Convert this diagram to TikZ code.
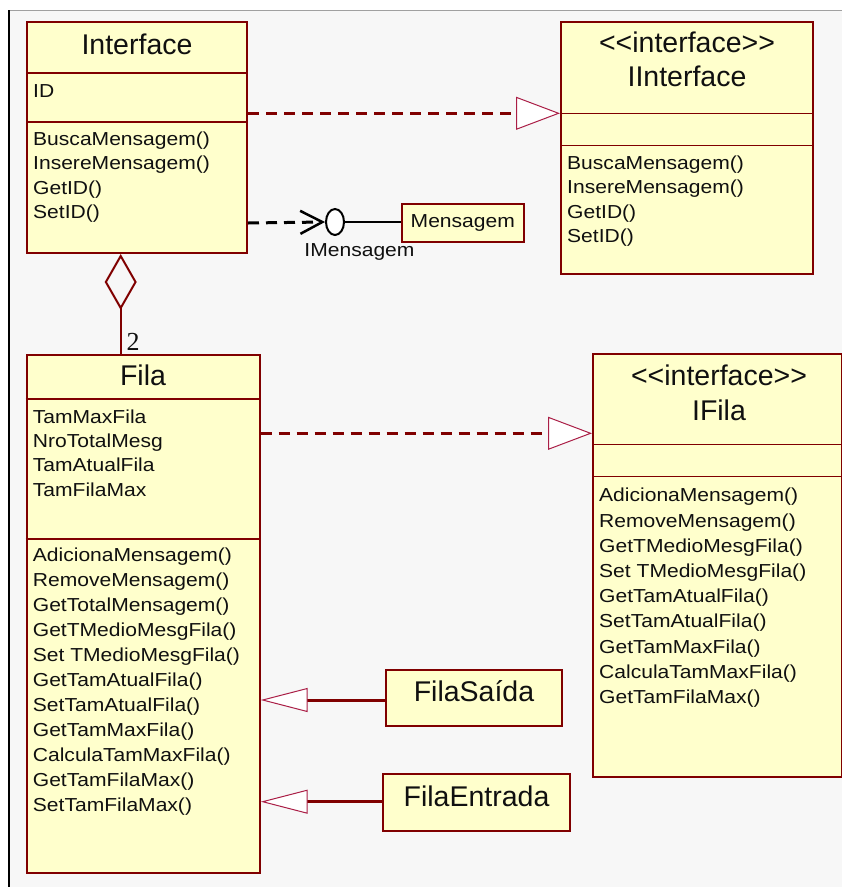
\documentclass[tikz,border=0pt]{standalone}
\usepackage{fontspec}
\setmainfont{Liberation Sans}
\newfontfamily\itemfont[FakeStretch=1.12]{Liberation Sans}
\newfontfamily\digitfont{Liberation Serif}
\usetikzlibrary{arrows.meta,shapes.geometric}
\definecolor{umlred}{RGB}{128,0,0}
\definecolor{tipred}{RGB}{170,30,70}
\definecolor{umlfill}{RGB}{255,255,204}
\definecolor{panel}{RGB}{247,247,247}
\definecolor{frameline}{RGB}{160,160,160}
\definecolor{ink}{RGB}{16,16,16}

\begin{document}
\begin{tikzpicture}[x=1pt,y=-1pt,
  classbox/.style={rectangle, draw=umlred, line width=2pt, fill=umlfill, inner sep=0pt},
  divider/.style={draw=umlred, line width=1.5pt},
  classtitle/.style={font=\fontsize{28.5}{34}\selectfont, inner sep=0pt, anchor=base, text=ink},
  items/.style={font=\itemfont\fontsize{18.8}{#1}\selectfont, inner sep=0pt, anchor=north west, align=left, text=ink},
  items/.default=24.5,
  smalllabel/.style={font=\itemfont\fontsize{18.8}{22}\selectfont, inner sep=0pt, anchor=base, text=ink},
  realize/.style={draw=umlred, line width=3pt, dash pattern=on 11pt off 7pt,
    -{Triangle[length=44pt,width=33pt,line width=1pt,color=tipred,fill=white]}},
  general/.style={draw=umlred, line width=3pt,
    -{Triangle[length=47pt,width=24pt,line width=1pt,color=tipred,fill=white]}},
  aggr/.style={draw=umlred, line width=2pt, -{Diamond[open,length=56pt,width=32pt]}},
  depend/.style={draw=black, line width=3pt, dash pattern=on 11pt off 7pt,
    -{Straight Barb[length=22pt,width=23pt,line width=2.5pt]}},
  lollipop/.style={ellipse, draw=black, line width=2pt, fill=white, inner sep=0pt,
    minimum width=18pt, minimum height=26pt}
]
\useasboundingbox (0,0) rectangle (842,887);

% canvas
\fill[white] (0,0) rectangle (842,887);
\fill[panel] (9,10) rectangle (842,887);
\draw[frameline, line width=1pt] (9,10) -- (842,10);
\draw[black, line width=1.6pt] (9,10) -- (9,887);

% class Interface
\node[classbox, minimum width=220pt, minimum height=231pt] (interface) at (137,137.5) {};
\draw[divider] (interface.west |- 0,73) -- (interface.east |- 0,73);
\draw[divider] (interface.west |- 0,122) -- (interface.east |- 0,122);
\node[classtitle] (interface-name) at (137,54.3) {Interface};
\node[items] (interface-attrs) at (33,82) {\rule{0pt}{15pt}ID};
\node[items=24.4] (interface-ops) at (33,130)
  {\rule{0pt}{15pt}BuscaMensagem()\\InsereMensagem()\\GetID()\\SetID()};

% interface IInterface
\node[classbox, minimum width=252pt, minimum height=252pt] (iinterface) at (687,148) {};
\draw[divider] (iinterface.west |- 0,113.3) -- (iinterface.east |- 0,113.3);
\draw[divider] (iinterface.west |- 0,145.7) -- (iinterface.east |- 0,145.7);
\node[classtitle] (iinterface-stereo) at (687,52.7) {<\kern0pt<interface>\kern0pt>};
\node[classtitle] (iinterface-name) at (687,86.7) {IInterface};
\node[items=24.2] (iinterface-ops) at (567,154.5)
  {\rule{0pt}{15pt}BuscaMensagem()\\InsereMensagem()\\GetID()\\SetID()};

% class Mensagem and its provided interface
\node[classbox, minimum width=122pt, minimum height=38pt] (mensagem) at (462.8,223.2) {};
\node[smalllabel] (mensagem-name) at (462.8,227.7) {Mensagem};
\node[lollipop] (lolli) at (335,222) {};
\node[smalllabel] (lolli-name) at (359.5,256) {IMensagem};

% class Fila
\node[classbox, minimum width=233pt, minimum height=518pt] (fila) at (143.2,614.2) {};
\draw[divider] (fila.west |- 0,399) -- (fila.east |- 0,399);
\draw[divider] (fila.west |- 0,539) -- (fila.east |- 0,539);
\node[classtitle] (fila-name) at (143,385) {Fila};
\node[items=24.3] (fila-attrs) at (32.7,408)
  {\rule{0pt}{15pt}TamMaxFila\\NroTotalMesg\\TamAtualFila\\TamFilaMax};
\node[items=25] (fila-ops) at (32.7,546.7)
  {\rule{0pt}{15pt}AdicionaMensagem()\\RemoveMensagem()\\GetTotalMensagem()\\GetTMedioMesgFila()\\Set TMedioMesgFila()\\GetTamAtualFila()\\SetTamAtualFila()\\GetTamMaxFila()\\CalculaTamMaxFila()\\GetTamFilaMax()\\SetTamFilaMax()};

% interface IFila
\node[classbox, minimum width=249pt, minimum height=423pt] (ifila) at (717.5,565.8) {};
\draw[divider] (ifila.west |- 0,444.3) -- (ifila.east |- 0,444.3);
\draw[divider] (ifila.west |- 0,476.7) -- (ifila.east |- 0,476.7);
\node[classtitle] (ifila-stereo) at (719,385) {<\kern0pt<interface>\kern0pt>};
\node[classtitle] (ifila-name) at (719,420) {IFila};
\node[items=25.2] (ifila-ops) at (599,486.7)
  {\rule{0pt}{15pt}AdicionaMensagem()\\RemoveMensagem()\\GetTMedioMesgFila()\\Set TMedioMesgFila()\\GetTamAtualFila()\\SetTamAtualFila()\\GetTamMaxFila()\\CalculaTamMaxFila()\\GetTamFilaMax()};

% subclasses of Fila
\node[classbox, minimum width=176.6pt, minimum height=56pt] (filasaida) at (474,698) {};
\node[classtitle] (filasaida-name) at (474,701.7) {FilaSaída};
\node[classbox, minimum width=186.7pt, minimum height=56.4pt] (filaentrada) at (476.7,802.5) {};
\node[classtitle] (filaentrada-name) at (476.5,806.7) {FilaEntrada};

% relationships
\coordinate (aggx) at (120.7,0);
\draw[realize] (interface.east |- 0,113.3) -- (iinterface.west |- 0,113.3);
\draw[realize] (fila.east |- 0,433.3) -- (ifila.west |- 0,433.3);
\draw[depend] (interface.east |- 0,223) -- (lolli.west);
\draw[black, line width=1.5pt] (lolli.east) -- (mensagem.west |- lolli.east);
\draw[aggr] (fila.north -| aggx) -- (interface.south -| aggx);
\node[font=\digitfont\fontsize{26}{30}\selectfont, inner sep=0pt, anchor=base, text=ink] (mult) at (133,350) {2};
\draw[general] (filasaida.west |- 0,700) -- (fila.east |- 0,700);
\draw[general] (filaentrada.west |- 0,801.7) -- (fila.east |- 0,801.7);
\end{tikzpicture}
\end{document}
